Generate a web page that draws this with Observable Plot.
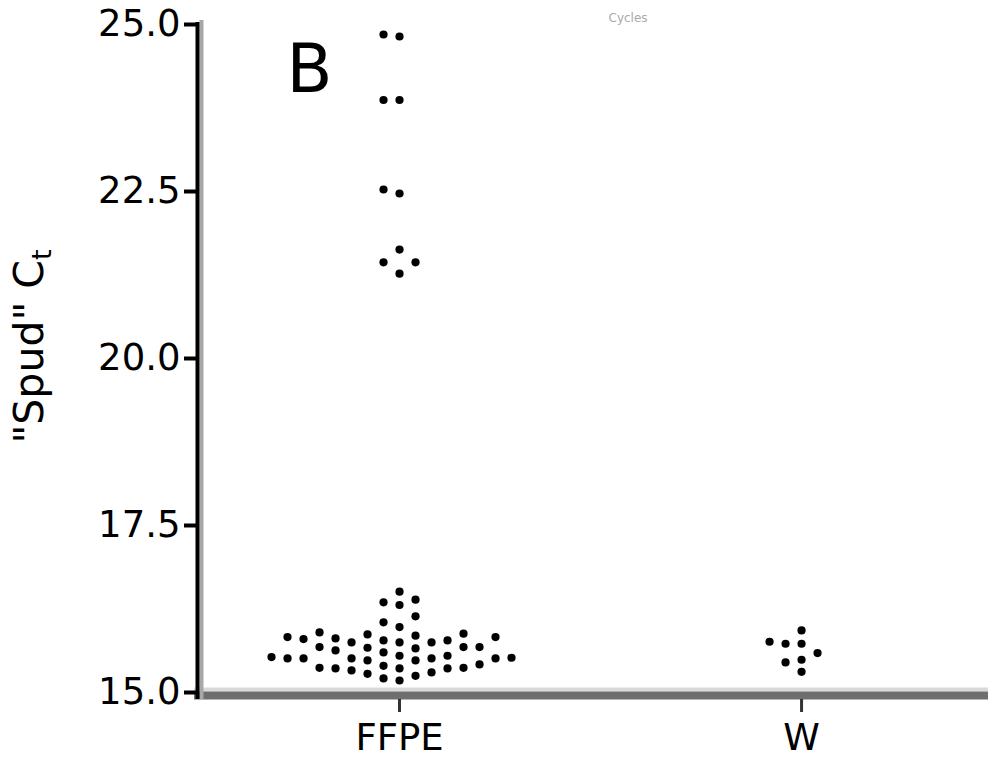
<!DOCTYPE html>
<html>
<head>
<meta charset="utf-8">
<script src="https://cdn.jsdelivr.net/npm/d3@7"></script>
<script src="https://cdn.jsdelivr.net/npm/@observablehq/plot@0.6"></script>
<style>
  html, body { margin: 0; padding: 0; background: #fff; }
  #chart svg { display: block; }
</style>
</head>
<body>
<div id="chart"></div>
<script>
// Sample groups and their "Spud" Ct values
const groups = ["FFPE", "W"];
const ffpeCt = [
  15.18, 15.21, 15.25, 15.28, 15.30, 15.33, 15.36, 15.36, 15.36, 15.37,
  15.37, 15.40, 15.42, 15.48, 15.48, 15.51, 15.51, 15.51, 15.51, 15.51,
  15.52, 15.53, 15.55, 15.55, 15.60, 15.63, 15.66, 15.67, 15.68, 15.68,
  15.68, 15.75, 15.75, 15.75, 15.78, 15.78, 15.80, 15.81, 15.83, 15.83,
  15.85, 15.87, 15.88, 15.90, 15.98,
  16.05, 16.14, 16.31, 16.35, 16.39, 16.51,
  21.27, 21.44, 21.44, 21.63, 22.47, 22.53, 23.87, 23.87, 24.82, 24.85
];
const wCt = [15.31, 15.45, 15.49, 15.59, 15.73, 15.73, 15.76, 15.93];
const yTicks = [15, 17.5, 20, 22.5, 25];
const panelLetter = "B";
const topNote = "Cycles";
const yLabelMain = "\"Spud\" C";
const yLabelSub = "t";

// Frame geometry
const W = 988, H = 759;
const mL = 198, mR = 0, mT = 24, mB = 67;
const xDomain = [-0.5, 1.465];
const yDomain = [15, 25];

const xPx = d3.scaleLinear(xDomain, [mL, W - mR]);
const yPx = d3.scaleLinear(yDomain, [H - mB, mT]);
const colStepPx = 16;   // horizontal spacing between neighbouring dots
const minGapPx = 12;    // dots closer than this vertically share no column
const colStep = colStepPx / (xPx(1) - xPx(0));

// Spread points sideways on a grid of columns: each point, in ascending order,
// takes the nearest column (centre, then left/right alternately) where no
// earlier point sits within minGapPx vertically.
function swarmColumns(values) {
  const order = d3.range(values.length).sort((a, b) => values[a] - values[b] || a - b);
  const taken = new Map();
  const cols = new Array(values.length);
  for (const i of order) {
    const py = yPx(values[i]);
    for (let k = 0; ; ++k) {
      const c = k === 0 ? 0 : (k % 2 ? -(k + 1) / 2 : k / 2);
      const ys = taken.get(c) || [];
      if (ys.every((q) => Math.abs(q - py) >= minGapPx - 1e-9)) {
        ys.push(py);
        taken.set(c, ys);
        cols[i] = c;
        break;
      }
    }
  }
  return cols;
}

const points = [ffpeCt, wCt].flatMap((vals, gi) => {
  const cols = swarmColumns(vals);
  return vals.map((v, i) => ({group: groups[gi], ct: v, x: gi + cols[i] * colStep}));
});

const chart = Plot.plot({
  width: W,
  height: H,
  marginLeft: mL,
  marginRight: mR,
  marginTop: mT,
  marginBottom: mB,
  style: {fontFamily: "DejaVu Sans", background: "#fff", color: "#000", overflow: "visible"},
  x: {domain: xDomain, axis: null},
  y: {domain: yDomain, axis: null},
  marks: [
    // x baseline
    Plot.ruleY([yDomain[0]], {stroke: "#d9d9d9", strokeWidth: 4, dy: -3, insetLeft: -4}),
    Plot.ruleY([yDomain[0]], {stroke: "#6e6e6e", strokeWidth: 8, dy: 3, insetLeft: -4}),
    // y axis line with its soft shadow
    Plot.ruleX([xDomain[0]], {y1: yDomain[1], y2: yDomain[0], stroke: "#a8a8a8", strokeWidth: 4, dx: 3, insetTop: -4, insetBottom: -7}),
    Plot.ruleX([xDomain[0]], {y1: yDomain[1], y2: yDomain[0], stroke: "#000", strokeWidth: 4, dx: -1, insetTop: -2, insetBottom: -7}),
    Plot.axisY({
      ticks: yTicks,
      tickFormat: d3.format(".1f"),
      tickSize: 14,
      tickPadding: 4,
      fontSize: 37,
      stroke: "#000",
      strokeWidth: 4,
      fill: "#000",
      label: null
    }),
    Plot.axisX({
      ticks: d3.range(groups.length),
      tickFormat: (i) => groups[i],
      tickSize: 13,
      tickPadding: 11,
      fontSize: 37,
      stroke: "#333",
      strokeWidth: 3,
      fill: "#000",
      dy: 7,
      label: null
    }),
    Plot.dot(points, {x: "x", y: "ct", r: 4.1, fill: "#000", stroke: null}),
    Plot.text([panelLetter], {frameAnchor: "top-left", text: (d) => d, textAnchor: "start", lineAnchor: "top", dx: 88, dy: 20, fontSize: 67, fill: "#000"}),
    Plot.text([topNote], {frameAnchor: "top-left", text: (d) => d, textAnchor: "start", lineAnchor: "middle", dx: 410, dy: -6, fontSize: 12, fill: "#aaa"}),
    Plot.text([yLabelMain], {frameAnchor: "left", text: (d) => d, rotate: -90, textAnchor: "middle", lineAnchor: "middle", dx: -169, dy: -12, fontSize: 41, fill: "#000"})
  ]
});

// subscript "t" of Ct in the y label
d3.select(chart).selectAll("text").filter(function () { return this.textContent === yLabelMain; })
  .append("tspan").attr("font-size", 27).attr("dy", "0.3em").text(yLabelSub);

document.getElementById("chart").appendChild(chart);
</script>
</body>
</html>
